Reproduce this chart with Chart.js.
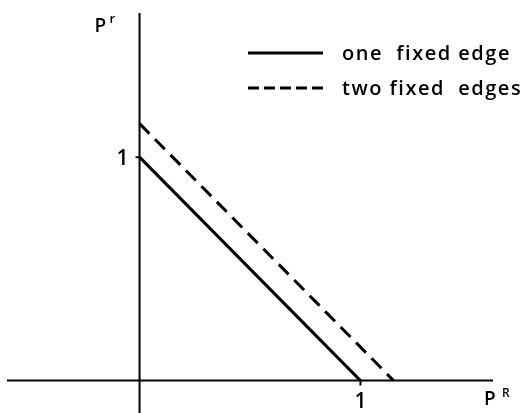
<!DOCTYPE html>
<html>
<head>
<meta charset="utf-8">
<script src="https://cdn.jsdelivr.net/npm/chart.js@4"></script>
<style>
  html, body { margin: 0; padding: 0; background: #fff; }
  #wrap { width: 530px; height: 413px; position: relative; }
</style>
</head>
<body>
<div id="wrap"><canvas id="chart"></canvas></div>
<script>
// line data
const oneEdgeX = [0, 1];
const oneEdgeY = [1, 0];
const twoEdgeX = [0, 1.15];
const twoEdgeY = [1.15, 0];
const seriesNames = ["one  fixed edge", "two fixed  edges"];
const tickValues = [1];
const tickLabels = ["1"];

const FONT = "'Open Sans', sans-serif";

function toPoints(xs, ys) {
  return xs.map((x, i) => ({ x: x, y: ys[i] }));
}

// axes through the origin, tick labels, axis names, legend
const paperAxes = {
  id: "paperAxes",
  afterDatasetsDraw(chart) {
    const ctx = chart.ctx;
    const area = chart.chartArea;
    const xs = chart.scales.x;
    const ys = chart.scales.y;
    const x0 = xs.getPixelForValue(0);
    const y0 = ys.getPixelForValue(0);

    ctx.save();
    ctx.strokeStyle = "#000";
    ctx.fillStyle = "#000";
    ctx.lineWidth = 2;
    ctx.setLineDash([]);
    ctx.beginPath();
    ctx.moveTo(area.left, y0);
    ctx.lineTo(area.right, y0);
    ctx.moveTo(x0, area.top);
    ctx.lineTo(x0, area.bottom);
    ctx.stroke();

    // tick marks + labels
    ctx.font = "600 21px " + FONT;
    tickValues.forEach((v, i) => {
      const px = xs.getPixelForValue(v);
      const py = ys.getPixelForValue(v);
      ctx.beginPath();
      ctx.moveTo(px, y0);
      ctx.lineTo(px, y0 + 5);
      ctx.moveTo(x0, py);
      ctx.lineTo(x0 - 4, py);
      ctx.stroke();
      ctx.textAlign = "center";
      ctx.textBaseline = "alphabetic";
      ctx.fillText(tickLabels[i], px, y0 + 27);
      ctx.textAlign = "right";
      ctx.fillText(tickLabels[i], x0 - 11, py + 8);
    });

    // axis names with superscripts
    ctx.textAlign = "left";
    ctx.font = "600 19px " + FONT;
    ctx.fillText("P", x0 - 45, area.top + 19);
    ctx.font = "600 13px " + FONT;
    ctx.fillText("r", x0 - 30, area.top + 10);
    ctx.font = "600 19px " + FONT;
    ctx.fillText("P", area.right - 9, y0 + 24);
    ctx.font = "600 12px " + FONT;
    ctx.fillText("R", area.right + 9, y0 + 16);

    // legend
    const rows = [53, 88];
    chart.data.datasets.forEach((ds, i) => {
      ctx.lineWidth = 3;
      ctx.setLineDash(i === 0 ? [] : [11, 5]);
      ctx.beginPath();
      ctx.moveTo(248, rows[i]);
      ctx.lineTo(323, rows[i]);
      ctx.stroke();
      ctx.setLineDash([]);
      ctx.font = "600 20px " + FONT;
      ctx.letterSpacing = "1.5px";
      ctx.textBaseline = "alphabetic";
      ctx.fillText(ds.label, 342, rows[i] + 7);
      ctx.letterSpacing = "0px";
    });
    ctx.restore();
  }
};

new Chart(document.getElementById("chart"), {
  type: "scatter",
  data: {
    datasets: [
      {
        label: seriesNames[0],
        data: toPoints(oneEdgeX, oneEdgeY),
        showLine: true,
        borderColor: "#000",
        borderWidth: 3,
        pointRadius: 0
      },
      {
        label: seriesNames[1],
        data: toPoints(twoEdgeX, twoEdgeY),
        showLine: true,
        borderColor: "#000",
        borderWidth: 3,
        borderDash: [14, 8],
        pointRadius: 0
      }
    ]
  },
  options: {
    responsive: true,
    maintainAspectRatio: false,
    animation: false,
    layout: { padding: { left: 7, right: 37, top: 13, bottom: 0 } },
    plugins: { legend: { display: false }, tooltip: { enabled: false } },
    scales: {
      x: { display: false, min: -0.6, max: 1.6 },
      y: { display: false, min: -0.145, max: 1.645 }
    }
  },
  plugins: [paperAxes]
});
</script>
</body>
</html>
